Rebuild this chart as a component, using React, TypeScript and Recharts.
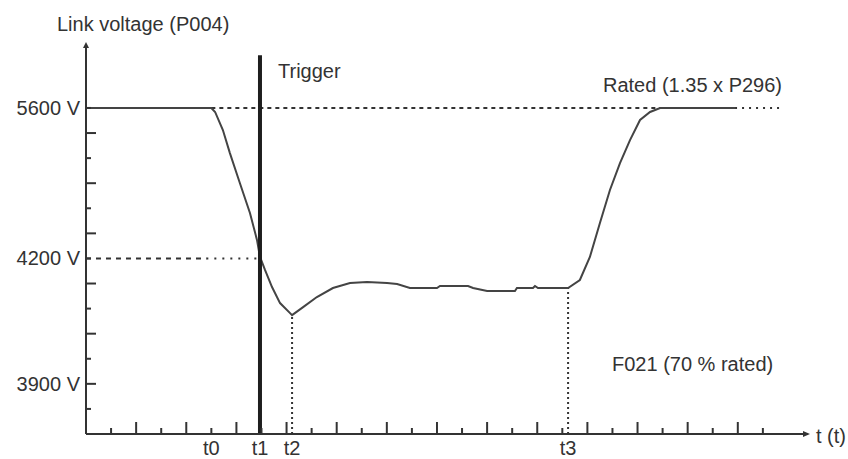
import { LineChart, Line, XAxis, YAxis, ReferenceLine, ReferenceDot } from 'recharts';

// curve of the DC link voltage, x in tick steps, y in tick steps
const curveT = [0, 5, 5.15, 5.46, 5.74, 6.14, 6.54, 6.82, 6.94, 7.14, 7.42, 7.74, 8.14, 8.22, 8.66, 9.21, 9.85, 10.53, 11.21, 12.01, 12.41, 12.92, 14.0, 14.12, 15.24, 15.44, 16.0, 17.11, 17.19, 17.83, 17.91, 18.03, 19.23, 19.7, 20.1, 20.5, 20.9, 21.3, 21.7, 22.1, 22.5, 22.9, 25.89];
const curveV = [13, 13, 12.84, 12.12, 11.2, 10.0, 8.81, 7.74, 7.06, 6.54, 5.86, 5.22, 4.82, 4.74, 5.06, 5.46, 5.82, 6.02, 6.06, 6.02, 5.98, 5.82, 5.82, 5.9, 5.9, 5.82, 5.7, 5.7, 5.82, 5.82, 5.9, 5.82, 5.82, 6.14, 7.06, 8.41, 9.73, 10.8, 11.72, 12.52, 12.84, 13.0, 13];

const levelTicks = [13, 7, 2];
const levelLabels = ['5600 V', '4200 V', '3900 V'];
const timeMarks = [5, 6.94, 8.22, 19.23];
const timeLabels = ['t0', 't1', 't2', 't3'];
const xTicks = [1, 2, 3, 4, 5, 6, 7, 8, 9, 10, 11, 12, 13, 14, 15, 16, 17, 18, 19, 20, 21, 22, 23, 24, 25, 26, 27];
const yTicks = [1, 2, 3, 4, 5, 6, 7, 8, 9, 10, 11, 12, 13];

const X_MAX = 28.8;
const Y_MAX = 15.55;
const triggerTop = 15.1;
const ratedEnd = 22.9; // dashed rated line stops where curve rejoins
const curveEnd = 25.89;
const dottedEnd = 27.77;

const data = curveT.map((t, i) => ({ t, v: curveV[i] }));

const INK = '#333';
const FONT = '"Liberation Sans", Arial, sans-serif';
const textStyle = { fontFamily: FONT, fontSize: 20, fill: INK };

function XTick(props: any) {
  const { x, y, payload } = props;
  const len = payload.value % 2 === 0 ? 12 : 6;
  return <line x1={x} x2={x} y1={y} y2={y - len} stroke={INK} strokeWidth={2} />;
}

function TLabel(props: any) {
  const { x, y, payload } = props;
  const i = timeMarks.indexOf(payload.value);
  return (
    <text x={x} y={y + 20} textAnchor="middle" {...textStyle}>
      {timeLabels[i]}
    </text>
  );
}

function YTick(props: any) {
  const { x, y, payload } = props;
  const v = payload.value;
  const len = v % 2 === 0 ? 10 : 5;
  const i = levelTicks.indexOf(v);
  return (
    <g>
      <line x1={x} x2={x + len} y1={y} y2={y} stroke={INK} strokeWidth={2} />
      {i >= 0 && (
        <text x={x - 6} y={y + 7} textAnchor="end" {...textStyle}>
          {levelLabels[i]}
        </text>
      )}
    </g>
  );
}

const arrowRight = (p: any) => (
  <path d={`M${p.cx + 2},${p.cy} L${p.cx - 5},${p.cy - 3} L${p.cx - 5},${p.cy + 3} Z`} fill={INK} />
);
const arrowUp = (p: any) => (
  <path d={`M${p.cx},${p.cy - 2} L${p.cx - 3},${p.cy + 4} L${p.cx + 3},${p.cy + 4} Z`} fill={INK} />
);

export default function App() {
  return (
    <div style={{ position: 'absolute', left: 0, top: 0, width: 848, height: 459, background: '#fff' }}>
      <LineChart width={848} height={459} data={data} margin={{ top: 44, right: 40, bottom: 23, left: 85 }}>
        <XAxis
          type="number"
          dataKey="t"
          domain={[0, X_MAX]}
          allowDataOverflow
          ticks={xTicks}
          interval={0}
          height={1}
          tickSize={0}
          tickMargin={0}
          tickLine={false}
          axisLine={{ stroke: INK, strokeWidth: 2 }}
          tick={<XTick />}
        />
        <XAxis
          xAxisId="t"
          type="number"
          dataKey="t"
          domain={[0, X_MAX]}
          allowDataOverflow
          ticks={timeMarks}
          interval={0}
          height={1}
          tickSize={0}
          tickMargin={0}
          tickLine={false}
          axisLine={false}
          tick={<TLabel />}
        />
        <YAxis
          type="number"
          domain={[0, Y_MAX]}
          allowDataOverflow
          ticks={yTicks}
          interval={0}
          width={1}
          tickSize={0}
          tickMargin={0}
          tickLine={false}
          axisLine={{ stroke: INK, strokeWidth: 2 }}
          tick={<YTick />}
        />
        <ReferenceLine
          segment={[{ x: timeMarks[0], y: levelTicks[0] }, { x: ratedEnd, y: levelTicks[0] }]}
          stroke={INK}
          strokeWidth={2}
          strokeDasharray="4 4"
        />
        <ReferenceLine
          segment={[{ x: curveEnd, y: levelTicks[0] }, { x: dottedEnd, y: levelTicks[0] }]}
          stroke={INK}
          strokeWidth={2}
          strokeDasharray="2 5"
        />
        <ReferenceLine
          segment={[{ x: 0, y: levelTicks[1] }, { x: 4.8, y: levelTicks[1] }]}
          stroke={INK}
          strokeWidth={2}
          strokeDasharray="5 5"
        />
        <ReferenceLine
          segment={[{ x: 4.8, y: levelTicks[1] }, { x: timeMarks[1], y: levelTicks[1] }]}
          stroke={INK}
          strokeWidth={2}
          strokeDasharray="2 6"
        />
        <ReferenceLine
          segment={[{ x: timeMarks[2], y: 0 }, { x: timeMarks[2], y: curveV[13] }]}
          stroke={INK}
          strokeWidth={2}
          strokeDasharray="2 3"
        />
        <ReferenceLine
          segment={[{ x: timeMarks[3], y: 0 }, { x: timeMarks[3], y: curveV[32] }]}
          stroke={INK}
          strokeWidth={2}
          strokeDasharray="2 3"
        />
        <Line
          type="linear"
          dataKey="v"
          stroke="#444"
          strokeWidth={2}
          dot={false}
          isAnimationActive={false}
        />
        <ReferenceLine
          segment={[{ x: timeMarks[1], y: 0 }, { x: timeMarks[1], y: triggerTop }]}
          stroke="#1e1e1e"
          strokeWidth={4}
        />
        <ReferenceDot x={X_MAX} y={0} r={3} ifOverflow="visible" shape={arrowRight} />
        <ReferenceDot x={0} y={Y_MAX} r={3} ifOverflow="visible" shape={arrowUp} />
      </LineChart>
      <svg width={848} height={459} style={{ position: 'absolute', left: 0, top: 0, pointerEvents: 'none' }}>
        <text x={57} y={31} {...textStyle}>Link voltage (P004)</text>
        <text x={278} y={78} {...textStyle}>Trigger</text>
        <text x={782} y={92} textAnchor="end" {...textStyle}>Rated (1.35 x P296)</text>
        <text x={612} y={371} {...textStyle}>F021 (70 % rated)</text>
        <text x={816} y={443} {...textStyle}>t (t)</text>
      </svg>
    </div>
  );
}
